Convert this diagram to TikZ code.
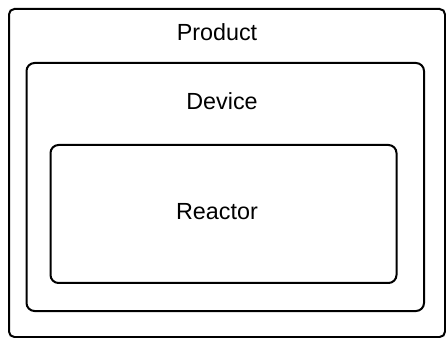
\documentclass[tikz,border=0pt]{standalone}
\usepackage{fontspec}
\setmainfont{Liberation Sans}

\tikzset{every picture/.style={line width=1.5pt}}
\tikzset{boxlabel/.style={inner sep=0.75pt, font=\fontsize{17.5}{21}\selectfont}}

\begin{document}
\begin{tikzpicture}[x=0.75pt,y=0.75pt,yscale=-1,xscale=1]
%set diagram frame, 446 x 338
\useasboundingbox (0,0) rectangle (446,338);

%Shape: Rectangle [id:product]
\draw [rounded corners=4] (9,9) rectangle (445,337) ;
%Shape: Rounded Rectangle [id:device]
\draw [rounded corners=6] (26.5,63) rectangle (424,311) ;
%Shape: Rounded Rectangle [id:reactor]
\draw [rounded corners=6] (50.5,145) rectangle (396.5,283) ;

% Text Node
\node [boxlabel] (productlabel) at (217,32.5) {Product};
% Text Node
\node [boxlabel] (devicelabel) at (222,101.5) {Device};
% Text Node
\node [boxlabel] (reactorlabel) at (217,212) {Reactor};
\end{tikzpicture}
\end{document}
